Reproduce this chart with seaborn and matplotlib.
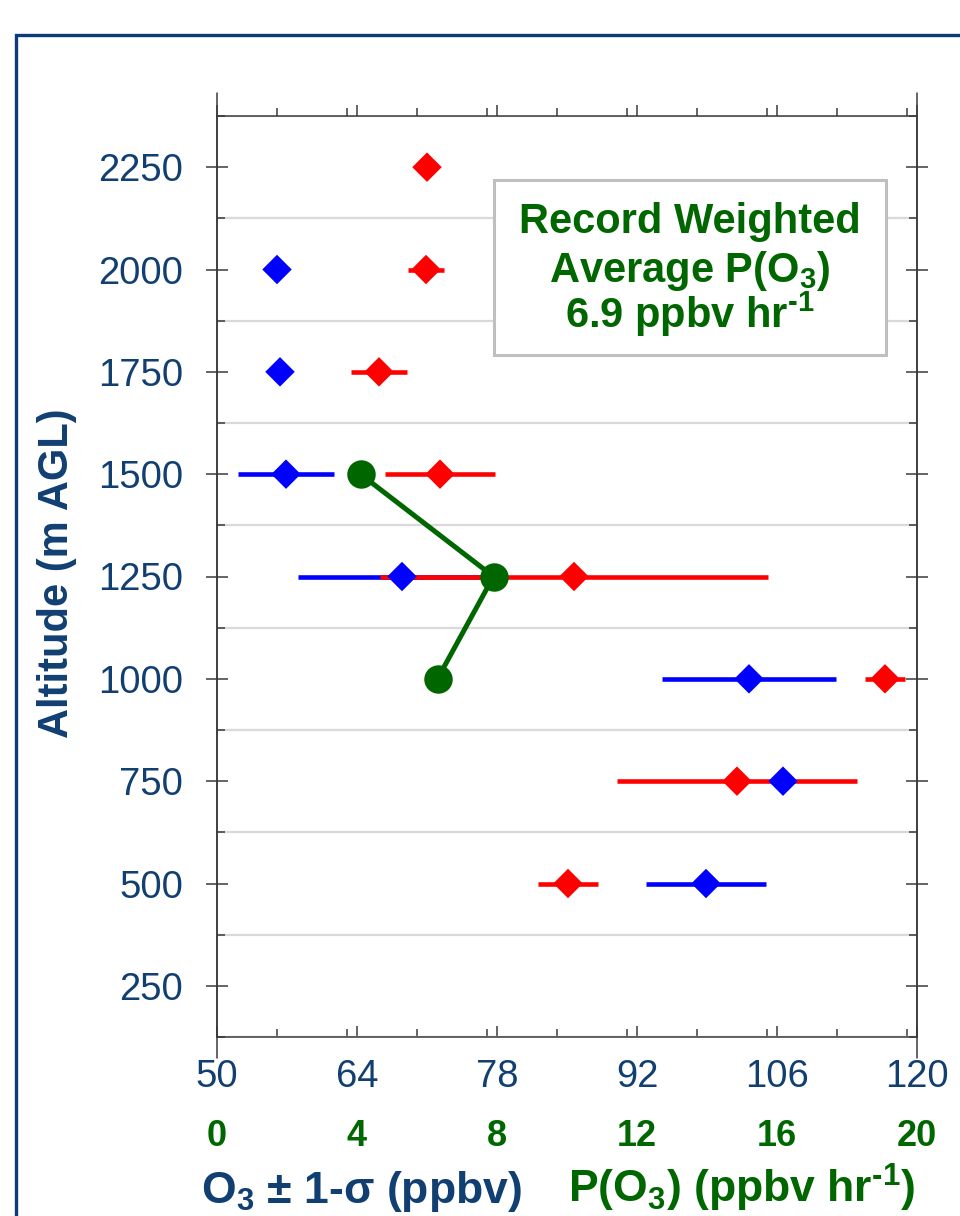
import numpy as np
import pandas as pd
import matplotlib
matplotlib.use("Agg")
import matplotlib.pyplot as plt
import seaborn as sns
from matplotlib.patches import Rectangle
from matplotlib.ticker import MultipleLocator

# ---------------- data ----------------
red_alt = [2250, 2000, 1750, 1500, 1250, 1000, 750, 500]
red_o3 = [71.0, 70.9, 66.2, 72.3, 85.7, 116.8, 102.0, 85.1]
red_sd = [0.0, 1.8, 2.8, 5.5, 19.4, 2.0, 12.0, 3.0]

blue_alt = [2000, 1750, 1500, 1250, 1000, 750, 500]
blue_o3 = [56.0, 56.3, 56.9, 68.5, 103.2, 106.6, 98.9]
blue_sd = [0.0, 0.0, 4.8, 10.4, 8.7, 0.0, 6.0]

green_alt = [1500, 1250, 1000]
green_p = [4.1, 7.9, 6.3]

o3_ticks = [50, 64, 78, 92, 106, 120]
p_ticks = [0, 4, 8, 12, 16, 20]
alt_ticks = [250, 500, 750, 1000, 1250, 1500, 1750, 2000, 2250]

box_lines = ["Record Weighted", "Average P(O$_3$)", "6.9 ppbv hr$^{\\text{-}1}$"]
xlabel_o3 = "O$_3$ ± 1-σ (ppbv)"
xlabel_p = "P(O$_3$) (ppbv hr$^{\\text{-}1}$)"
ylabel = "Altitude (m AGL)"

# ---------------- style ----------------
sns.set_style("white")
plt.rcParams['font.family'] = ['Liberation Sans', 'DejaVu Sans']
plt.rcParams['mathtext.fontset'] = 'custom'
plt.rcParams['mathtext.rm'] = 'Liberation Sans:bold'
plt.rcParams['mathtext.it'] = 'Liberation Sans:bold'
plt.rcParams['mathtext.bf'] = 'Liberation Sans:bold'

NAVY = '#113F72'
GREEN = '#006600'
AXC = '#3a3a3a'
W, H = 960, 1216

red_df = pd.DataFrame({'alt': red_alt, 'o3': red_o3, 'sd': red_sd})
blue_df = pd.DataFrame({'alt': blue_alt, 'o3': blue_o3, 'sd': blue_sd})
green_df = pd.DataFrame({'alt': green_alt, 'p': green_p})

fig = plt.figure(figsize=(9.6, 12.16), dpi=100)
ax = fig.add_axes([217 / W, 1 - 1037 / H, 700 / W, 921 / H])

ax.set_xlim(50, 120)
ax.set_ylim(125, 2375)

# error bars
ax.hlines(blue_df['alt'], blue_df['o3'] - blue_df['sd'], blue_df['o3'] + blue_df['sd'],
          color='#0000FF', lw=3.3, zorder=2)
ax.hlines(red_df['alt'], red_df['o3'] - red_df['sd'], red_df['o3'] + red_df['sd'],
          color='#FF0000', lw=3.3, zorder=3)
sns.scatterplot(data=red_df, x='o3', y='alt', ax=ax, marker='D', s=225,
                color='#FF0000', edgecolor='none', zorder=4, legend=False)
sns.scatterplot(data=blue_df, x='o3', y='alt', ax=ax, marker='D', s=225,
                color='#0000FF', edgecolor='none', zorder=5, legend=False)
ax.set_xlabel('')
ax.set_ylabel('')

# ticks
ax.set_xticks(o3_ticks)
ax.xaxis.set_minor_locator(MultipleLocator(7))
ax.set_yticks(alt_ticks)
ax.yaxis.set_minor_locator(MultipleLocator(250, offset=125))
ax.tick_params(axis='y', which='major', direction='inout', length=16.5, width=1.1,
               color=AXC, left=True, right=True, labelleft=True, labelright=False,
               labelsize=27.5, labelcolor=NAVY, pad=16)
ax.tick_params(axis='y', which='minor', direction='in', length=6, width=1.1,
               color=AXC, left=True, right=True)
ax.tick_params(axis='x', which='major', direction='in', length=8, width=1.1,
               color=AXC, bottom=True, top=False, labelsize=27.5, labelcolor=NAVY, pad=16)
ax.tick_params(axis='x', which='minor', direction='in', length=6, width=1.1,
               color=AXC, bottom=True, top=False)
ax.yaxis.grid(True, which='minor', color='#D9D9D9', lw=1.6)
ax.yaxis.grid(False, which='major')
ax.xaxis.grid(False)
for s in ax.spines.values():
    s.set_color(AXC)
    s.set_linewidth(1.1)

# top ticks pointing outward
top = ax.secondary_xaxis('top')
top.set_xticks(o3_ticks)
top.xaxis.set_minor_locator(MultipleLocator(7))
top.tick_params(axis='x', which='major', direction='out', length=8, width=1.1,
                color=AXC, labeltop=False)
top.tick_params(axis='x', which='minor', direction='out', length=6, width=1.1, color=AXC)
top.spines['top'].set_visible(False)

# extended vertical frame lines
for xa in (0, 1):
    ax.plot([xa, xa], [-0.0228, 1.025], transform=ax.transAxes, color=AXC,
            lw=1.1, clip_on=False, zorder=6)

# green P(O3) on its own scale
ax2 = ax.twiny()
ax2.set_xlim(0, 20)
sns.lineplot(data=green_df, x='p', y='alt', ax=ax2, color=GREEN, lw=3.6, sort=False,
             marker='o', markersize=20.5, markeredgecolor='none', zorder=7)
ax2.set_xlabel('')
ax2.set_ylabel('')
ax2.xaxis.set_ticks_position('bottom')
ax2.set_xticks(p_ticks)
ax2.tick_params(axis='x', length=0, pad=59, labelsize=26, labelcolor=GREEN)
for lab in ax2.get_xticklabels():
    lab.set_fontweight('bold')
for s in ax2.spines.values():
    s.set_visible(False)
ax2.grid(False)
ax.set_ylim(125, 2375)

# annotation box
fig.patches.append(Rectangle((494 / W, 1 - 355 / H), 392 / W, 175 / H,
                             transform=fig.transFigure, facecolor='white',
                             edgecolor='#BFBFBF', lw=2.2, zorder=10))
for txt, yb in zip(box_lines, (233, 282, 328)):
    fig.text(690 / W, 1 - yb / H, txt, ha='center', va='baseline', color=GREEN,
             fontsize=30, fontweight='bold', zorder=11)

# axis labels
fig.text(201 / W, 1 - 1203 / H, xlabel_o3, ha='left', va='baseline', color=NAVY,
         fontsize=32, fontweight='bold')
fig.text(568 / W, 1 - 1203 / H, xlabel_p, ha='left', va='baseline', color=GREEN,
         fontsize=32, fontweight='bold')
fig.text(57 / W, 1 - 573 / H, ylabel, ha='center', va='center', rotation=90,
         color=NAVY, fontsize=30, fontweight='bold')

# outer frame
fig.patches.append(Rectangle((15.5 / W, -0.1), 2.0, (1216 - 34.5) / H + 0.1,
                             transform=fig.transFigure, facecolor='none',
                             edgecolor='#0B3B78', lw=2.4, zorder=0))

fig.savefig('out.png', dpi=100)
